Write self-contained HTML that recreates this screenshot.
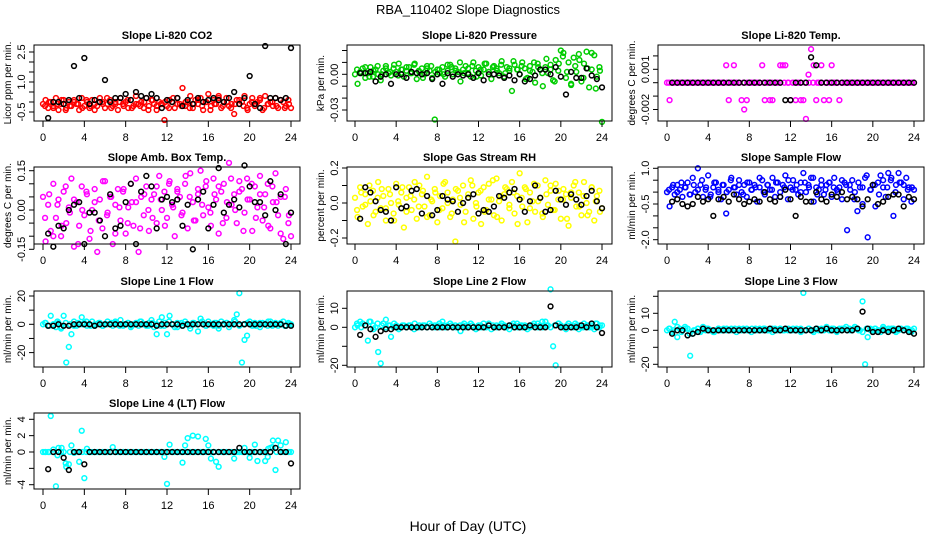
<!DOCTYPE html>
<html><head><meta charset="utf-8">
<style>
html,body{margin:0;padding:0;background:#fff;}
svg{display:block;font-family:"Liberation Sans",sans-serif;}
</style></head>
<body>
<svg id="chart" width="936" height="540" viewBox="0 0 936 540" xmlns="http://www.w3.org/2000/svg">
<rect x="0" y="0" width="936" height="540" fill="#fff"/>
<text x="468" y="14" text-anchor="middle" font-size="13">RBA_110402  Slope Diagnostics</text>
<text x="468" y="531" text-anchor="middle" font-size="14">Hour of Day (UTC)</text>
</svg>
<script>
// ---- data ----
const xTicks = [0,4,8,12,16,20,24];

const co2Col = [-0.1,0.1,-0.3,0.0,-0.2,0.2,-0.4,-0.1,0.1,-0.3,0.0,-0.2,0.1,-0.1,-0.4,0.2,-0.2,0.0,-0.3,0.1,-0.1,-0.2,0.2,0.0,-0.3,-0.1,0.1,-0.2,0.0,-0.4,0.2,-0.1,0.0,-0.3,0.1,-0.2,0.3,-0.1,0.0,-0.3,0.2,-0.2,0.1,-0.1,-0.4,0.0,-0.1,-0.9,-0.2,0.1,0.0,-0.3,0.2,-0.1,0.7,-0.2,0.0,0.3,-0.3,0.1,-0.1,0.2,-0.4,0.0,0.4,-0.2,0.1,-0.1,0.3,-0.3,0.0,0.2,-0.2,-0.1,-0.6,0.1,-0.1,0.0,0.3,-0.3,-0.1,0.2,-0.2,0.0,0.1,-0.4,0.3,-0.1,0.0,-0.2,0.2,-0.3,0.1,0.0,-0.2,0.1,-0.3];
const co2Col2 = [-0.2,0.0,-0.3,-0.1,0.1,-0.4,-0.2,0.0,-0.1,-0.3,0.1,-0.2,-0.4,0.0,-0.1,0.2,-0.3,-0.1,0.0,-0.2,0.1,-0.3,-0.1,-0.2,0.0,-0.4,0.1,-0.2,-0.1,0.0,-0.3,0.2,-0.1,-0.2,0.0,-0.3,-0.1,0.1,-0.2,0.0,-0.4,-0.1,0.2,-0.2,0.0,-0.3,-0.1,0.1,-0.2,-0.4,0.0,-0.1,0.2,-0.3,-0.1,0.0,-0.2,0.1,-0.3,-0.1];
const co2Blk = [-0.8,0.0,0.0,-0.1,0.1,1.8,0.2,2.2,-0.1,0.1,0.0,1.1,0.0,0.2,0.2,0.4,0.1,0.5,0.3,0.2,0.4,0.2,-0.3,0.1,0.0,0.2,-0.2,0.1,-0.1,0.2,0.0,0.1,0.2,0.1,0.0,0.2,0.5,-0.1,0.2,1.3,-0.1,-0.3,2.8,0.2,0.2,0.1,0.2,2.7];

const presCol = [0.000,-0.008,0.002,0.005,-0.003,0.001,0.006,-0.002,0.004,0.000,-0.005,0.003,0.007,0.001,-0.001,0.005,0.002,0.009,0.004,-0.002,0.003,0.006,0.001,0.008,-0.004,0.002,0.005,0.000,0.007,0.003,-0.003,-0.038,0.004,0.001,0.006,-0.002,0.003,0.008,0.000,0.005,0.002,-0.006,0.004,0.007,0.001,-0.002,0.010,0.003,0.006,-0.001,0.004,0.009,0.002,-0.004,0.007,0.005,0.001,0.011,-0.002,0.006,0.003,-0.014,0.008,0.004,0.000,0.010,0.005,-0.003,0.007,0.002,-0.007,0.009,0.004,-0.010,0.006,0.001,0.008,-0.005,0.012,0.003,0.020,0.018,-0.003,0.010,-0.008,0.014,0.002,0.017,-0.006,0.009,0.019,-0.011,0.004,0.016,-0.002,0.006,-0.040];
const presCol2 = [0.004,0.001,0.006,-0.002,0.003,0.007,0.000,0.005,0.002,0.008,-0.001,0.004,0.006,0.001,0.009,0.003,-0.003,0.005,0.007,0.002,0.004,0.000,0.008,0.006,0.003,0.010,0.001,0.005,0.007,-0.002,0.004,0.009,0.002,0.006,0.003,0.008,0.001,0.005,0.011,0.004,0.007,-0.004,0.003,0.010,0.006,0.001,0.013,0.004,-0.006,0.009,0.015,0.002,-0.009,0.007,0.012,-0.003,0.005,0.018,-0.012,0.003];
const presBlk = [0.001,0.001,0.002,-0.006,-0.002,0.000,-0.008,0.000,0.000,-0.003,0.002,0.001,0.000,0.001,-0.004,0.000,-0.008,0.001,-0.002,0.000,-0.001,0.000,-0.003,0.001,-0.005,0.000,0.000,-0.001,-0.003,-0.001,-0.005,0.000,-0.006,-0.004,-0.001,0.004,0.004,0.000,0.006,-0.002,-0.017,0.002,-0.003,-0.003,0.005,-0.001,-0.004,-0.011];

const tempCol = [0,-0.0013,0,0,0,0,0,0,0,0,0,0,0,0,0,0,0,0,0,0,0,0,0,0.0013,-0.0013,0,0.0013,0,0,-0.0013,-0.002,-0.0013,0,0,0,0,0,0.0013,-0.0013,0,-0.0013,-0.0013,0,0,0.0013,0.0013,0.0013,0,-0.0013,0,-0.0013,0,-0.0013,-0.0013,-0.0027,0.0006,0.0025,0.0013,-0.0013,0,0.0013,-0.0013,0,-0.0013,0.0013,0,0,-0.0013,0,0,0,0,0,0,0,0,0,0,0,0,0,0,0,0,0,0,0,0,0,0,0,0,0,0,0,0,0];
const tempCol2 = [0,0,0,0,0,0,0,0,0,0,0,0,0,0,0,0,0,0,0,0,0,0,0,0,0,0,0,0,0,0,0,0,0,0,0,0,0,0,0,0,0,0,0,0,0,0,0,0,0,0,0,0,0,0,0,0,0,0,0,0];
const tempBlk = [0,0,0,0,0,0,0,0,0,0,0,0,0,0,0,0,0,0,0,0,0,0,-0.0013,-0.0013,0,0,0,0.0019,0.0013,0,0,0,0,0,0,0,0,0,0,0,0,0,0,0,0,0,0,0];

const ambCol = [0.05,-0.12,0.02,-0.08,0.10,-0.03,0.04,-0.10,0.07,-0.05,0.01,0.12,-0.14,0.03,-0.06,0.09,-0.02,0.06,-0.11,0.00,0.08,-0.16,0.04,-0.07,0.11,-0.01,0.05,-0.13,0.02,0.08,-0.04,0.07,-0.09,0.01,0.10,-0.06,0.03,-0.16,0.05,-0.02,0.09,-0.08,0.04,0.06,-0.05,0.13,0.00,0.07,-0.03,0.11,0.02,-0.10,0.08,0.05,-0.01,0.10,-0.07,0.14,0.03,-0.04,0.06,0.15,-0.02,0.09,0.01,-0.06,0.12,0.04,-0.09,0.07,0.10,-0.03,0.18,0.02,0.06,-0.05,0.11,0.08,-0.01,0.12,0.04,-0.08,0.09,0.01,0.13,-0.04,0.06,0.10,-0.07,0.03,0.14,-0.02,0.05,-0.11,0.08,-0.05,-0.10];
const ambCol2 = [-0.03,0.06,-0.10,0.02,-0.06,0.09,-0.01,0.04,-0.13,0.00,0.07,-0.08,0.03,-0.04,0.11,-0.02,0.05,-0.09,0.01,0.08,-0.05,0.03,0.12,-0.07,0.06,0.00,-0.03,0.09,0.04,-0.06,0.10,0.01,0.07,-0.02,0.13,0.05,-0.04,0.08,0.02,0.11,-0.01,0.06,0.09,-0.05,0.03,0.12,0.00,0.07,-0.08,0.04,0.10,-0.03,0.06,0.01,-0.06,0.09,0.03,-0.09,0.05,-0.02];
const ambBlk = [-0.09,-0.14,-0.06,-0.07,0.00,0.02,0.03,-0.13,-0.01,-0.01,-0.04,-0.10,0.06,-0.07,-0.06,0.03,0.10,-0.13,0.07,0.13,0.09,-0.07,0.04,0.05,0.03,0.04,-0.06,0.02,-0.15,0.04,0.07,-0.07,0.02,0.16,-0.01,0.02,0.04,0.01,0.17,0.09,0.03,0.03,-0.02,0.11,0.00,0.06,-0.13,-0.01];

const rhCol = [0.03,-0.08,0.09,-0.02,0.05,-0.12,0.01,0.07,-0.05,0.12,-0.03,0.04,-0.10,0.08,0.00,-0.06,0.11,-0.01,0.06,-0.14,0.03,0.09,-0.04,0.02,-0.09,0.10,0.05,-0.02,0.15,-0.07,0.01,0.08,-0.11,0.04,-0.03,0.12,0.06,-0.08,0.02,-0.22,0.07,-0.01,0.10,-0.05,0.03,0.13,-0.09,0.00,0.06,-0.12,0.09,-0.04,0.11,0.02,-0.07,0.14,0.01,-0.10,0.05,0.08,-0.03,0.12,-0.06,0.04,0.17,-0.02,0.09,-0.11,0.06,0.01,-0.05,0.10,0.03,-0.08,0.13,-0.01,0.07,-0.04,0.11,0.02,-0.09,0.08,0.05,-0.13,0.03,0.10,-0.02,0.06,-0.07,0.12,0.00,-0.05,0.09,-0.10,0.04,0.07,-0.03];
const rhCol2 = [-0.04,0.06,-0.01,0.10,-0.07,0.03,0.08,-0.03,0.05,-0.10,0.01,0.09,-0.05,0.04,0.12,-0.02,0.07,-0.08,0.02,0.06,-0.04,0.11,0.00,-0.06,0.08,0.03,-0.11,0.05,0.10,-0.02,0.07,-0.05,0.02,0.13,-0.08,0.04,0.09,-0.01,0.06,-0.12,0.03,0.08,-0.03,0.11,0.01,-0.06,0.05,0.10,-0.04,0.07,0.02,-0.09,0.06,0.12,-0.02,0.04,-0.07,0.09,0.01,-0.05];
const rhBlk = [-0.09,0.09,0.06,0.01,-0.04,-0.05,-0.10,0.09,-0.03,-0.02,0.07,0.08,-0.06,0.04,-0.07,-0.04,0.04,0.02,0.01,-0.05,0.00,0.03,0.05,-0.06,-0.04,-0.05,-0.02,0.04,0.03,0.06,0.08,0.02,-0.05,0.01,0.10,0.03,-0.05,-0.04,0.07,0.02,-0.01,0.05,0.02,-0.01,0.04,0.07,0.01,-0.03];

const flowCol = [0.0,-0.6,0.2,-0.1,0.3,0.1,-0.2,0.2,0.4,-0.1,0.6,0.0,1.0,0.3,-0.2,0.1,0.7,-0.1,0.2,0.4,0.0,-0.3,0.3,-0.9,0.1,0.6,0.2,-0.1,0.5,0.0,0.3,-0.2,0.4,0.1,0.3,-0.4,0.2,0.5,-0.1,0.3,0.1,0.6,-0.2,0.4,0.0,0.3,0.7,-0.3,0.2,0.5,0.1,-0.1,0.4,0.8,0.0,0.3,0.6,-0.4,0.2,0.1,0.5,-0.1,0.3,0.4,-0.2,0.6,0.1,0.2,-0.3,0.4,-1.6,0.3,0.5,0.0,-0.8,0.2,-0.5,0.6,-1.9,0.1,0.3,-0.6,0.4,0.7,0.2,-0.2,0.8,0.5,-1.0,0.3,0.8,0.4,-0.3,0.6,0.2,-0.4,0.1];
const flowCol2 = [0.1,0.3,0.0,0.4,0.2,-0.1,0.3,0.1,0.5,0.2,-0.2,0.4,0.1,0.3,0.0,0.5,0.2,0.3,-0.1,0.4,0.1,0.2,0.6,0.0,0.3,0.1,0.4,-0.2,0.2,0.5,0.1,0.3,0.0,0.4,0.2,0.6,-0.1,0.3,0.1,0.4,0.2,0.0,0.5,0.3,0.1,-0.3,0.4,0.2,0.7,0.1,0.3,-0.1,0.5,0.2,0.6,0.0,0.4,0.3,0.1,0.2];
const flowBlk = [-0.4,-0.3,-0.5,-0.6,-0.5,-0.2,-0.4,-0.3,-1.0,-0.3,-0.2,-0.4,-0.1,-0.3,-0.5,-0.4,-0.3,-0.4,0.0,-0.3,-0.4,-0.2,0.1,-0.3,-1.0,-0.2,-0.4,-0.4,0.0,-0.3,-0.4,-0.1,-0.2,0.0,-0.3,-0.2,-0.3,-0.6,-0.3,0.3,-0.5,-0.4,-0.2,-0.1,-0.1,-0.6,-0.2,-0.3];

const l1Col = [0,1,-1,6,0,-2,1,-3,6,-27,-16,-7,2,-1,0,5,1,-1,0,2,-1,0,1,-1,0,2,0,-1,1,0,3,-1,0,1,-2,0,1,-1,2,0,-1,1,3,-2,-7,2,5,-1,-7,6,0,-2,1,0,-1,2,0,-3,1,0,-5,4,0,-1,2,0,-1,1,-3,2,0,1,-2,0,3,7,22,-27,-11,-8,2,-1,1,0,-2,1,0,-1,2,0,1,-1,0,2,-1,1,0];
const l1Col2 = [1,-1,0,2,-2,1,0,-1,1,0,2,-1,0,1,-1,0,1,2,-1,0,1,-1,0,2,0,-1,1,0,-1,1,2,0,-2,1,0,-1,1,0,2,-1,0,1,-1,0,1,0,2,-1,0,1,0,-1,1,0,2,-1,0,1,-1,0];
const l1Blk = [-1,-1,0,-1,-1,0,0,0,0,-1,0,0,0,0,0,0,0,0,0,0,0,-1,0,0,0,0,-1,0,0,0,0,0,0,0,0,0,0,0,0,0,0,0,0,0,0,0,-1,-1];

const l2Col = [0,1,3,2,1,-7,3,1,0,-13,-19,2,4,1,-5,0,1,-1,0,1,0,1,0,-1,0,1,0,1,0,2,0,1,1,0,3,0,1,2,0,1,0,-2,1,0,1,2,0,-1,1,0,2,0,1,-1,0,1,0,2,1,0,-1,1,0,2,1,0,1,-1,0,1,0,2,1,0,3,1,20,-10,-20,2,1,0,-1,2,1,0,1,-1,0,2,1,0,1,-1,2,0,1];
const l2Col2 = [2,0,1,3,-1,2,1,0,1,2,0,1,0,1,2,0,1,0,1,0,2,1,0,1,0,1,2,0,1,0,1,0,2,1,0,1,0,1,2,0,1,0,1,2,0,3,1,0,1,2,0,1,0,2,1,0,1,0,2,1];
const l2Blk = [-4,1,-1,-5,-2,-1,-1,0,0,0,0,0,0,0,0,0,0,0,0,0,0,0,0,0,0,1,0,0,0,1,0,0,0,1,0,0,0,11,1,0,0,0,0,1,0,2,0,-3];

const l3Col = [0,1,-1,5,-4,1,0,2,1,-15,-2,0,1,-1,2,0,1,0,-1,0,1,0,1,0,0,1,0,-1,1,0,0,1,0,1,0,0,1,0,1,0,0,-1,1,0,1,0,1,0,0,1,0,0,1,22,0,1,0,-1,1,0,1,0,2,0,1,0,-1,1,0,1,0,1,0,2,1,0,17,-20,-4,1,0,1,0,-1,2,0,1,0,1,-1,0,1,0,1,0,-1,1];
const l3Col2 = [1,0,2,-1,1,-2,0,1,0,1,0,-1,1,0,1,0,1,0,1,0,-1,1,0,1,0,1,0,1,0,1,0,1,-1,0,1,0,1,0,1,0,1,0,1,2,0,1,0,-1,1,0,1,0,1,0,1,0,1,0,1,0];
const l3Blk = [-2,0,0,-3,-2,-1,1,0,0,0,0,0,0,0,0,0,0,0,0,1,0,0,1,0,0,0,0,0,1,0,1,0,0,0,0,0,1,11,1,-1,-1,0,-1,0,1,0,-1,-2];

const l4Col = [0,0,0,4.4,0,-4.2,0.5,0,0,-1.8,-1.5,0.8,-0.1,0,-1.2,2.6,-3.2,0.4,0,0,0,0,0,0,0,0,0,0.6,0,0,0,0,0,0,0,0,0,0,0,0,0,0,0,0,0,0,0,-0.6,-3.9,0.9,0,0,0,0,-1.3,0.8,1.7,0,2,0,1.9,0,0,1.6,0.8,-0.8,0,-1.2,-1.8,0,0,0,0,0,-0.8,0,0,0,0.5,0,-0.7,0,0.9,-1.1,0,0,-1.1,-0.6,0.5,1.4,-2.2,1.4,0,0,1.2,0,0];
const l4Col2 = [0,0,0.3,-0.4,0.5,-1.4,0,0,0,0,0,0,0,0,0,0,0,0,0,0,0,0,0,0,0,0,0,0,0,0,0,0,0,0,0,0,0,0,0,0,0,0,0,0,0,0,0,0,0,0,0,0,0,0,0.4,0.6,0,0.8,0,0];
const l4Blk = [-2.1,0,0,-0.7,-2.2,0,0,-1.5,0,0,0,0,0,0,0,0,0,0,0,0,0,0,0,0,0,0,0,0,0,0,0,0,0,0,0,0,0,0.5,0,0,0,0,0,0,0.5,0,0,-1.4];

// ---- layout ----
const NS = 'http://www.w3.org/2000/svg';
const svg = document.getElementById('chart');
const cols = [{l:34,r:300,x0:43,x24:291},{l:347,r:612,x0:355,x24:602},{l:658,r:924,x0:667,x24:914}];
const rows = [{t:45,b:121},{t:167,b:244},{t:291,b:367},{t:413,b:489}];

const panels = [
 {key:'co2',title:'Slope Li-820 CO2',ylab:'Licor ppm per min.',c:0,r:0,col:'#ff0000',dc:co2Col,dc2:co2Col2,db:co2Blk,v1:-0.5,p1:112,v2:2.5,p2:52,ticks:[-0.5,0,0.5,1,1.5,2,2.5],labels:['-0.5','1.0','2.5'],lv:[-0.5,1,2.5]},
 {key:'pressure',title:'Slope Li-820 Pressure',ylab:'kPa per min.',c:1,r:0,col:'#00cd00',dc:presCol,dc2:presCol2,db:presBlk,v1:0,p1:74.3,v2:-0.03,p2:110,ticks:[0.02,0.01,0,-0.01,-0.02,-0.03],labels:['0.00','-0.03'],lv:[0,-0.03]},
 {key:'temp',title:'Slope Li-820 Temp.',ylab:'degrees C per min.',c:2,r:0,col:'#ff00ff',dc:tempCol,dc2:tempCol2,db:tempBlk,v1:0,p1:82.7,v2:0.001,p2:69.3,ticks:[0.002,0.001,0,-0.001,-0.002],labels:['0.001','-0.002'],lv:[0.001,-0.002]},
 {key:'amb-temp',title:'Slope Amb. Box Temp.',ylab:'degrees C per min.',c:0,r:1,col:'#ff00ff',dc:ambCol,dc2:ambCol2,db:ambBlk,v1:0,p1:210,v2:0.15,p2:170.7,ticks:[0.15,0.1,0.05,0,-0.05,-0.1,-0.15],labels:['0.15','0.00','-0.15'],lv:[0.15,0,-0.15]},
 {key:'gas-rh',title:'Slope Gas Stream RH',ylab:'percent per min.',c:1,r:1,col:'#ffff00',dc:rhCol,dc2:rhCol2,db:rhBlk,v1:0,p1:203,v2:0.2,p2:168,ticks:[0.2,0.1,0,-0.1,-0.2],labels:['0.2','0.0','-0.2'],lv:[0.2,0,-0.2]},
 {key:'sample-flow',title:'Slope Sample Flow',ylab:'ml/min per min.',c:2,r:1,col:'#0000ff',dc:flowCol,dc2:flowCol2,db:flowBlk,v1:-0.5,p1:204,v2:1.0,p2:168.3,ticks:[1,0.5,0,-0.5,-1,-1.5,-2],labels:['1.0','-0.5','-2.0'],lv:[1,-0.5,-2]},
 {key:'line1',title:'Slope Line 1 Flow',ylab:'ml/min per min.',c:0,r:2,col:'#00ffff',dc:l1Col,dc2:l1Col2,db:l1Blk,v1:0,p1:324.3,v2:20,p2:296,ticks:[20,10,0,-10,-20],labels:['20','0','-20'],lv:[20,0,-20]},
 {key:'line2',title:'Slope Line 2 Flow',ylab:'ml/min per min.',c:1,r:2,col:'#00ffff',dc:l2Col,dc2:l2Col2,db:l2Blk,v1:0,p1:327.3,v2:10,p2:308.3,ticks:[10,0,-10,-20],labels:['10','0','-20'],lv:[10,0,-20]},
 {key:'line3',title:'Slope Line 3 Flow',ylab:'ml/min per min.',c:2,r:2,col:'#00ffff',dc:l3Col,dc2:l3Col2,db:l3Blk,v1:0,p1:330.3,v2:10,p2:313.3,ticks:[20,10,0,-10,-20],labels:['10','0','-20'],lv:[10,0,-20]},
 {key:'line4',title:'Slope Line 4 (LT) Flow',ylab:'ml/min per min.',c:0,r:3,col:'#00ffff',dc:l4Col,dc2:l4Col2,db:l4Blk,v1:0,p1:452,v2:4,p2:419.3,ticks:[4,2,0,-2,-4],labels:['4','2','0','-4'],lv:[4,2,0,-4]}
];

function mk(tag, attrs){ const e=document.createElementNS(NS,tag); for(const k in attrs) e.setAttribute(k,attrs[k]); return e; }

panels.forEach(p=>{
  const C=cols[p.c], R=rows[p.r];
  const g=mk('g',{});
  
  
  svg.appendChild(g);
  const xs = h => C.x0 + (C.x24-C.x0)*h/24;
  const ys = v => p.p1 + (v-p.v1)*(p.p2-p.p1)/(p.v2-p.v1);

  const t=mk('text',{x:(C.l+C.r)/2,y:R.t-6,'text-anchor':'middle','font-size':11,'font-weight':'bold'});
  t.textContent=p.title;
  
  
  g.appendChild(t);

  const yl=mk('text',{x:0,y:0,'text-anchor':'middle','font-size':10,transform:`translate(${C.l-23},${(R.t+R.b)/2}) rotate(-90)`});
  yl.textContent=p.ylab;
  
  
  g.appendChild(yl);

  const n=p.dc.length;
  p.dc.forEach((v,i)=>{
    const c=mk('circle',{cx:xs(i*24/(n-1)),cy:ys(v),r:2.4,fill:'none',stroke:p.col,'stroke-width':1.5});
    
    
    g.appendChild(c);
  });
  const n2=p.dc2.length;
  p.dc2.forEach((v,i)=>{
    const c=mk('circle',{cx:xs((i+0.5)*24/n2),cy:ys(v),r:2.4,fill:'none',stroke:p.col,'stroke-width':1.5});
    
    
    g.appendChild(c);
  });
  const nb=p.db.length;
  p.db.forEach((v,i)=>{
    const c=mk('circle',{cx:xs(0.5+i*23.5/(nb-1)),cy:ys(v),r:2.4,fill:'none',stroke:'#000','stroke-width':1.5});
    
    
    g.appendChild(c);
  });

  const box=mk('rect',{x:C.l,y:R.t,width:C.r-C.l,height:R.b-R.t,fill:'none',stroke:'#000','stroke-width':1});
  
  
  g.appendChild(box);

  const xa=mk('line',{x1:xs(0),x2:xs(24),y1:R.b,y2:R.b,stroke:'#000'});
  
  
  g.appendChild(xa);
  xTicks.forEach(h=>{
    const tk=mk('line',{x1:xs(h),x2:xs(h),y1:R.b,y2:R.b+6,stroke:'#000'});
    
    
    g.appendChild(tk);
    const tl=mk('text',{x:xs(h),y:R.b+20,'text-anchor':'middle','font-size':11});
    tl.textContent=String(h);
    
    
    g.appendChild(tl);
  });
  const ya=mk('line',{x1:C.l,x2:C.l,y1:ys(Math.min(...p.ticks)),y2:ys(Math.max(...p.ticks)),stroke:'#000'});
  
  
  g.appendChild(ya);
  p.ticks.forEach(v=>{
    const tk=mk('line',{x1:C.l-5,x2:C.l,y1:ys(v),y2:ys(v),stroke:'#000'});
    
    
    g.appendChild(tk);
  });
  p.lv.forEach((v,i)=>{
    const tl=mk('text',{x:0,y:0,'text-anchor':'middle','font-size':11,transform:`translate(${C.l-9},${ys(v)}) rotate(-90)`});
    tl.textContent=p.labels[i];
    
    
    g.appendChild(tl);
  });
});
</script>
</body></html>
